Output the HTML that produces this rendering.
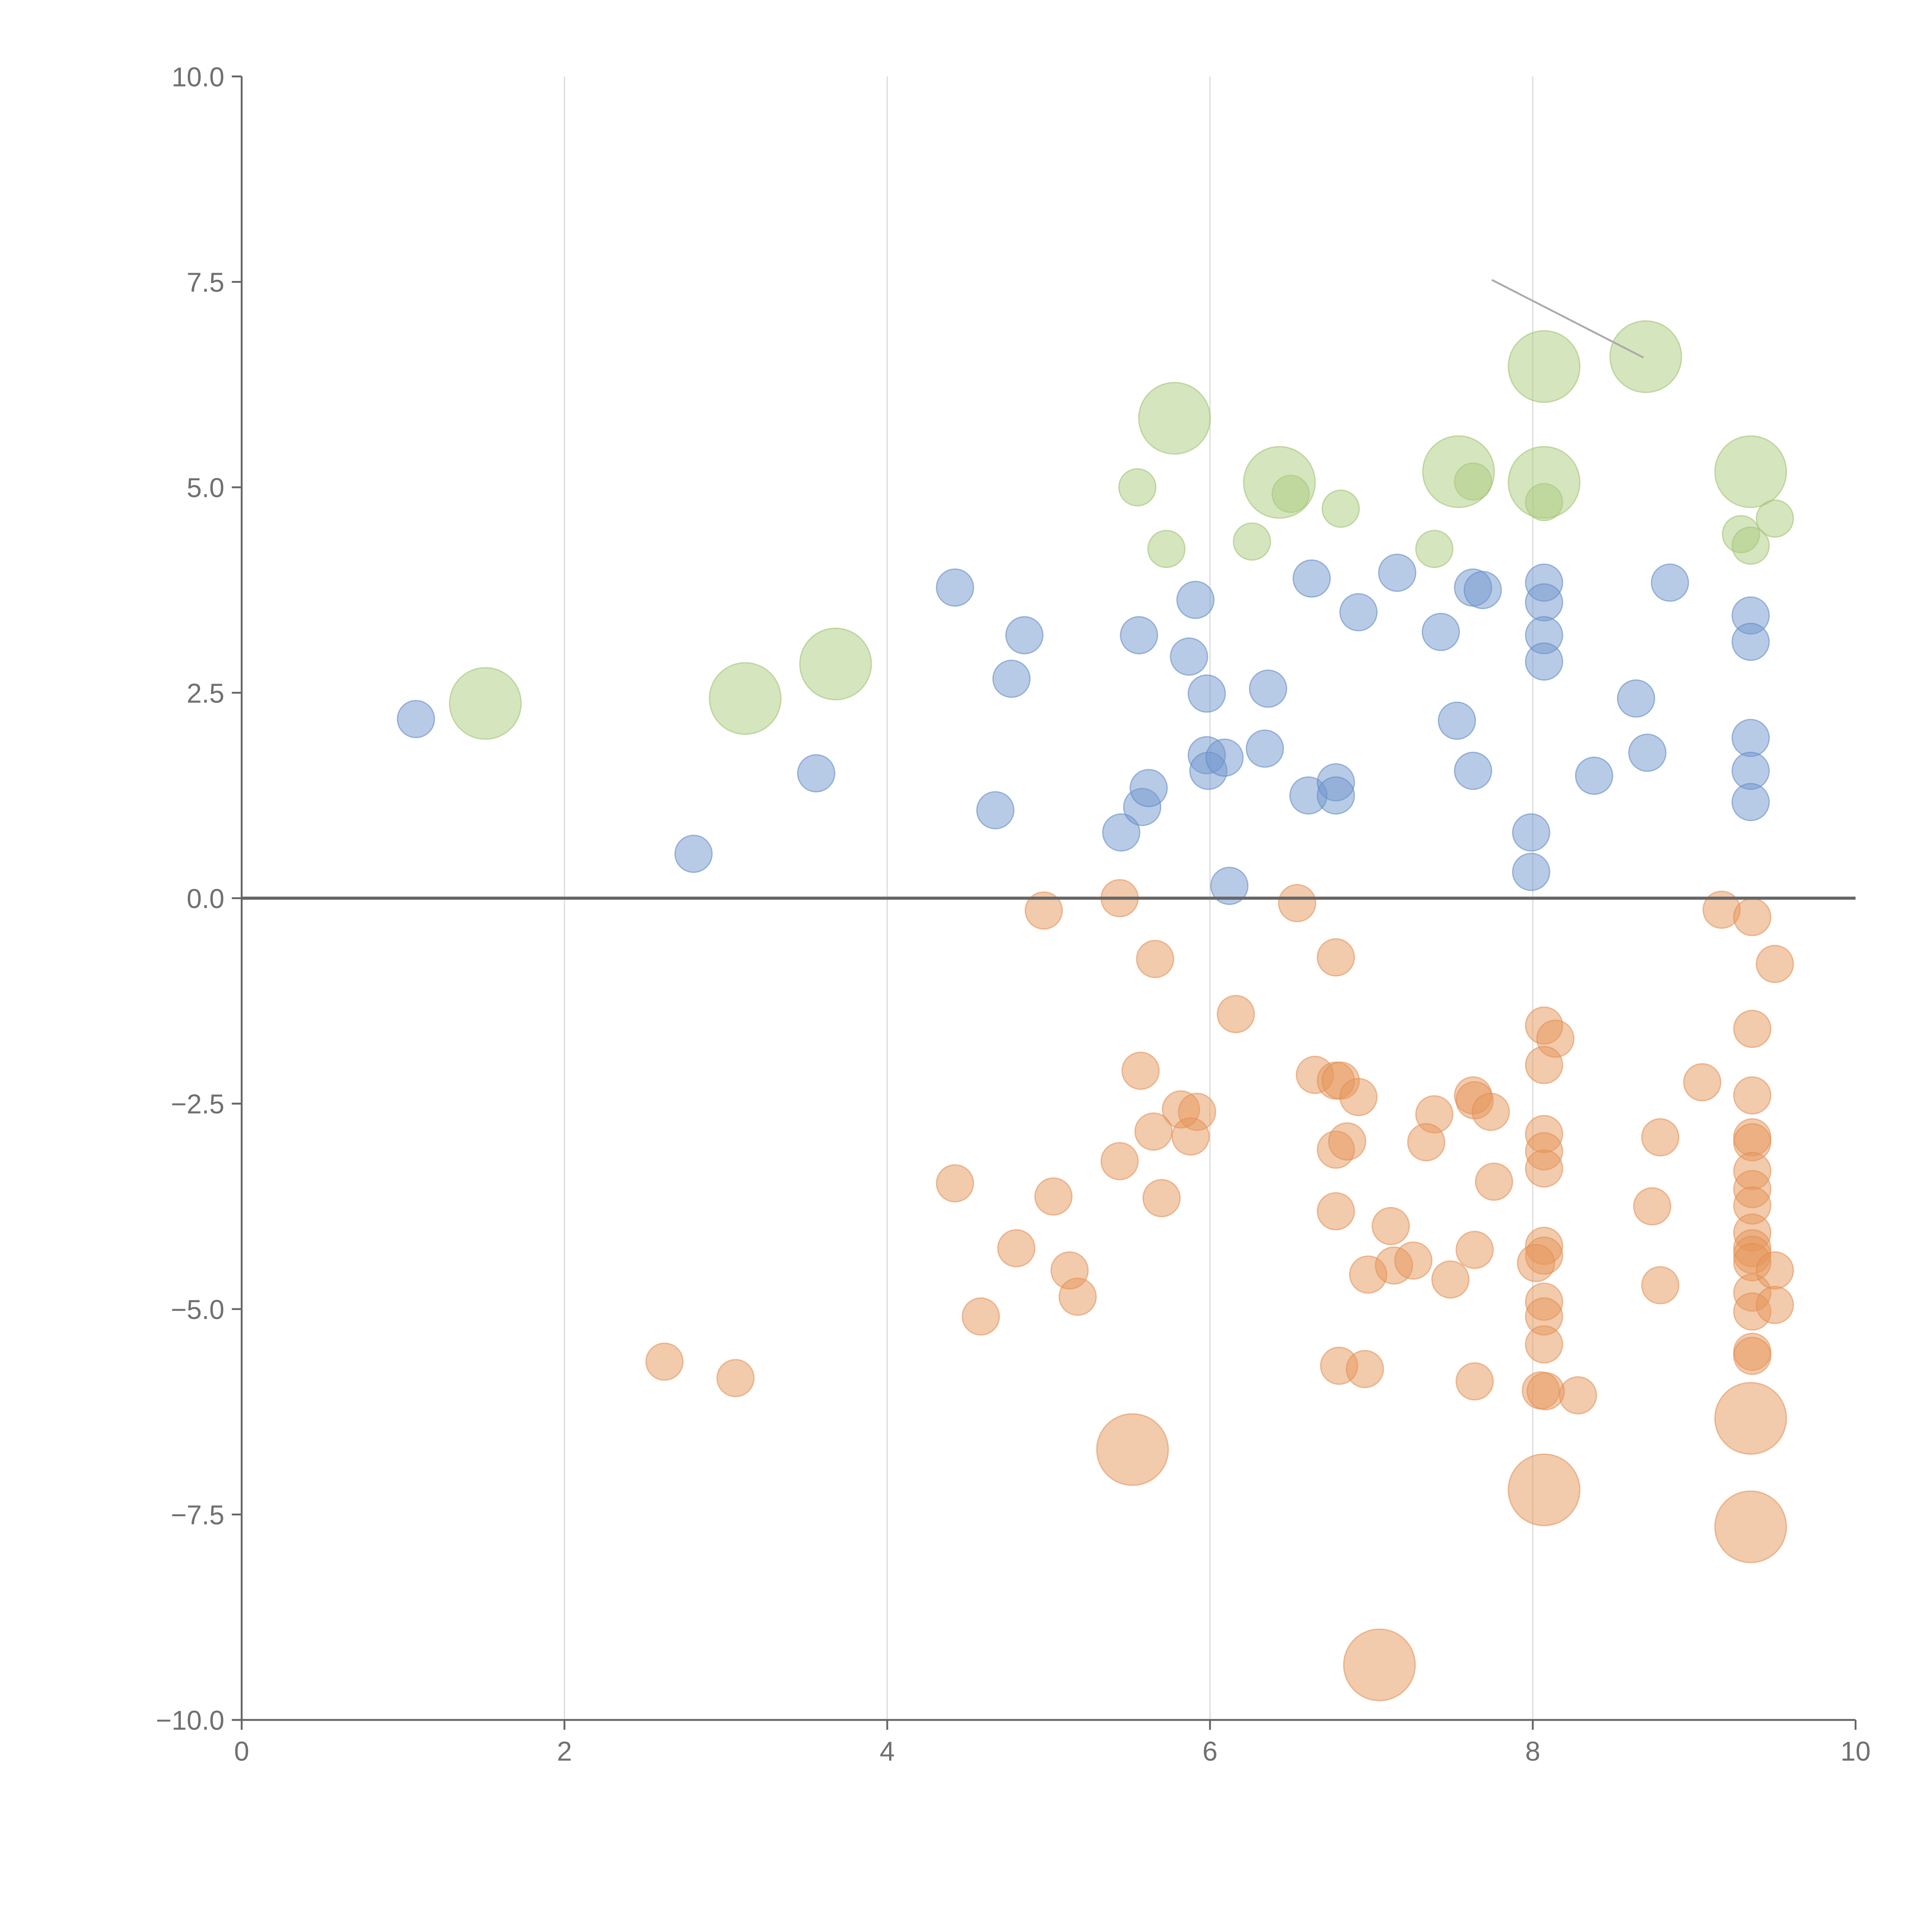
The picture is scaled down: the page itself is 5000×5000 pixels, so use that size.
<!DOCTYPE html>
<html><head><meta charset="utf-8">
<style>
html,body{margin:0;padding:0;background:#fff;}
svg{display:block;}
text{font-family:"Liberation Sans",sans-serif;fill:#707070;}
</style></head>
<body>
<svg id="chart" width="5000" height="5000" viewBox="0 0 1567 1567" xmlns="http://www.w3.org/2000/svg">
<g id="grid"></g>
<g id="marks"></g>
<g id="axes"></g>
</svg>
<script>
const xTicks = [0, 2, 4, 6, 8, 10];
const yTicks = [10, 7.5, 5, 2.5, 0, -2.5, -5, -7.5, -10];
const yTickLabels = ["10.0", "7.5", "5.0", "2.5", "0.0", "\u22122.5", "\u22125.0", "\u22127.5", "\u221210.0"];

const blueX = [1.08,2.80,3.56,4.42,4.67,4.77,4.85,5.45,5.56,5.58,5.62,5.87,5.91,5.98,5.98,5.99,6.09,6.12,6.34,6.36,6.61,6.63,6.78,6.78,6.92,7.16,7.43,7.53,7.63,7.63,7.69,7.99,7.99,8.07,8.07,8.07,8.07,8.38,8.64,8.71,8.85,9.35,9.35,9.35,9.35,9.35];
const blueY = [2.18,0.54,1.52,3.78,1.07,2.67,3.20,0.80,3.20,1.11,1.34,2.94,3.63,2.49,1.74,1.55,1.71,0.15,1.82,2.55,1.25,3.89,1.41,1.25,3.48,3.96,3.24,2.16,3.78,1.55,3.75,0.80,0.32,3.84,3.60,3.20,2.88,1.49,2.43,1.77,3.84,3.44,3.12,1.95,1.55,1.17];

const greenX = [5.55,5.73,6.26,6.50,6.81,7.39,7.63,8.07,9.29,9.35,9.50,1.51,3.12,3.68,5.78,6.43,7.54,8.07,8.07,8.70,9.35];
const greenY = [5.00,4.25,4.34,4.92,4.74,4.25,5.07,4.82,4.43,4.29,4.62,2.37,2.43,2.85,5.84,5.06,5.19,6.47,5.06,6.59,5.19];
const greenSize = [1,1,1,1,1,1,1,1,1,1,1,2,2,2,2,2,2,2,2,2,2];

const orangeX = [4.97,5.44,5.66,6.54,6.78,6.16,5.57,6.65,6.78,6.81,6.92,5.82,5.92,5.65,5.88,5.44,6.78,6.85,7.39,7.34,7.63,7.64,7.74,7.76,4.42,5.03,5.70,6.78,7.12,4.80,5.13,5.18,4.58,6.98,7.14,7.26,7.49,7.64,2.62,3.06,6.80,6.96,7.64,8.28,8.07,8.14,8.07,8.07,8.07,8.07,8.07,8.07,8.02,8.07,8.07,8.07,8.05,8.08,8.79,8.74,8.79,9.05,9.17,9.36,9.50,9.36,9.36,9.36,9.36,9.36,9.36,9.36,9.36,9.36,9.36,9.36,9.36,9.36,9.36,9.36,9.50,9.50,5.52,8.07,9.35,9.35,7.05];
const orangeY = [-0.15,0.0,-0.74,-0.06,-0.72,-1.41,-2.10,-2.15,-2.22,-2.22,-2.42,-2.57,-2.60,-2.84,-2.90,-3.20,-3.06,-2.96,-2.63,-2.97,-2.40,-2.46,-2.60,-3.45,-3.47,-3.63,-3.65,-3.81,-3.99,-4.26,-4.53,-4.85,-5.09,-4.58,-4.47,-4.41,-4.64,-4.28,-5.64,-5.84,-5.69,-5.73,-5.88,-6.05,-1.55,-1.71,-2.03,-2.87,-3.08,-3.29,-4.23,-4.35,-4.44,-4.91,-5.09,-5.43,-5.99,-6.00,-2.91,-3.75,-4.71,-2.24,-0.14,-0.23,-0.80,-1.59,-2.40,-2.91,-2.97,-3.32,-3.54,-3.74,-4.07,-4.26,-4.34,-4.43,-4.80,-5.03,-5.52,-5.57,-4.53,-4.95,-6.71,-7.20,-6.33,-7.65,-9.33];
const orangeSize = orangeX.map((_, i) => i >= orangeX.length - 5 ? 2 : 1);

const NS = "http://www.w3.org/2000/svg";
const X0 = 196, X1 = 1505, Y0 = 1395, Y1 = 62;
function sx(v){ return X0 + (v - 0) / 10 * (X1 - X0); }
function sy(v){ return Y0 - (v + 10) / 20 * (Y0 - Y1); }
function mk(tag, attrs, parent){
  const el = document.createElementNS(NS, tag);
  for (const k in attrs) el.setAttribute(k, attrs[k]);
  parent.appendChild(el);
  return el;
}
const grid = document.getElementById("grid");
const marks = document.getElementById("marks");
const axes = document.getElementById("axes");

xTicks.forEach(t => {
  if (t === 0 || t === 10) return;
  const l = mk("line", {x1:sx(t), x2:sx(t), y1:Y1, y2:Y0, stroke:"#dcdcdc", "stroke-width":1}, grid);
  
  
});

function drawSeries(xs, ys, sizes, fill, stroke, name){
  xs.forEach((x, i) => {
    const r = sizes[i] === 2 ? 29 : 15;
    const c = mk("circle", {cx:sx(x), cy:sy(ys[i]), r:r, fill:fill, stroke:stroke, "stroke-width":1}, marks);
    
    
  });
}
drawSeries(blueX, blueY, blueX.map(() => 1), "rgba(114,152,206,0.5)", "rgba(100,140,200,0.6)", "blue-point");
drawSeries(greenX, greenY, greenSize, "rgba(172,204,126,0.5)", "rgba(160,195,115,0.6)", "green-point");
drawSeries(orangeX, orangeY, orangeSize, "rgba(230,150,90,0.5)", "rgba(225,140,80,0.55)", "orange-point");

const ann = mk("line", {x1:1210, y1:227, x2:1333, y2:290, stroke:"#aaa", "stroke-width":1.5}, marks);



const zl = mk("line", {x1:X0, x2:X1, y1:sy(0), y2:sy(0), stroke:"#666", "stroke-width":2.5}, axes);


const ly = mk("line", {x1:X0, x2:X0, y1:Y1, y2:Y0, stroke:"#666", "stroke-width":1.5}, axes);


const lx = mk("line", {x1:X0, x2:X1, y1:Y0, y2:Y0, stroke:"#666", "stroke-width":1.5}, axes);



xTicks.forEach(t => {
  const tk = mk("line", {x1:sx(t), x2:sx(t), y1:Y0, y2:Y0+8, stroke:"#666", "stroke-width":1.5}, axes);
  
  
  const tx = mk("text", {x:sx(t), y:Y0+33, "text-anchor":"middle", "font-size":22}, axes);
  tx.textContent = String(t);
  
  
});
yTicks.forEach((t, i) => {
  const tk = mk("line", {x1:X0-8, x2:X0, y1:sy(t), y2:sy(t), stroke:"#666", "stroke-width":1.5}, axes);
  
  
  const tx = mk("text", {x:X0-14, y:sy(t)+8, "text-anchor":"end", "font-size":22}, axes);
  tx.textContent = yTickLabels[i];
  
  
});
</script>
</body></html>
